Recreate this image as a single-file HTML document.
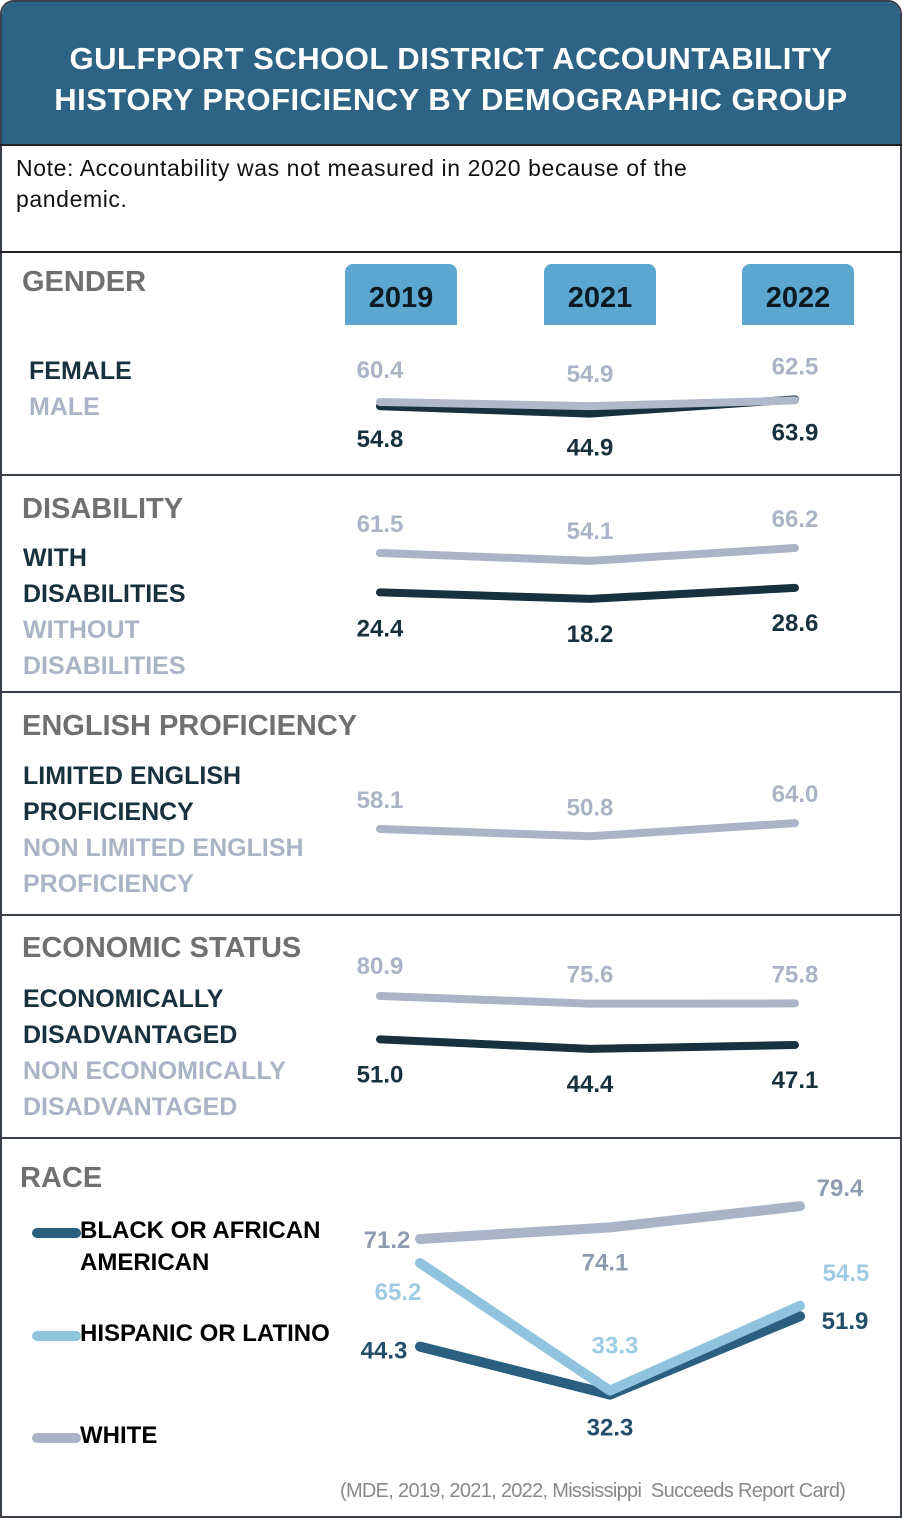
<!DOCTYPE html>
<html><head><meta charset="utf-8">
<style>
html,body{margin:0;padding:0;background:#fff;}
body{width:902px;height:1518px;position:relative;overflow:hidden;font-family:"Liberation Sans",sans-serif;}
.abs{position:absolute;}
#frame{position:absolute;left:0;top:0;width:898px;height:1514px;border:2px solid #3a4049;border-radius:14px 14px 0 0;}
#header{left:2px;top:2px;width:898px;height:142px;background:#2d6384;border-radius:12px 12px 0 0;color:#fff;font-weight:bold;font-size:31px;text-align:center;line-height:41px;padding-top:36px;box-sizing:border-box;letter-spacing:0.5px;}
.hr{position:absolute;left:0;width:902px;height:2px;background:#222;}
.note{left:16px;top:153px;font-size:23px;color:#111;line-height:31px;width:770px;letter-spacing:0.6px;}
.sec{font-size:29px;font-weight:bold;color:#707070;}
.lab{font-size:25px;font-weight:bold;line-height:36px;}
.dark{color:#17313f;}
.light{color:#aab4c6;}
.year{background:#5ba7d0;border-radius:8px 8px 0 0;width:112px;height:61px;top:264px;font-size:29px;font-weight:bold;color:#0d1a22;text-align:center;line-height:68px;}
.src{left:340px;top:1480px;font-size:20px;color:#888;letter-spacing:-0.7px;}
svg{position:absolute;left:0;top:0;}
</style></head><body>
<div id="frame"></div>
<div class="abs" id="header">GULFPORT SCHOOL DISTRICT ACCOUNTABILITY<br>HISTORY PROFICIENCY BY DEMOGRAPHIC GROUP</div>
<div class="hr" style="top:144px"></div>
<div class="abs note">Note: Accountability was not measured in 2020 because of the pandemic.</div>
<div class="hr" style="top:251px"></div>
<div class="hr" style="top:474px;background:#3a4049"></div>
<div class="hr" style="top:691px;background:#3a4049"></div>
<div class="hr" style="top:914px;background:#3a4049"></div>
<div class="hr" style="top:1137px;background:#3a4049"></div>

<div class="abs sec" style="left:22px;top:266px">GENDER</div>
<div class="abs year" style="left:345px">2019</div>
<div class="abs year" style="left:544px">2021</div>
<div class="abs year" style="left:742px">2022</div>
<div class="abs lab dark" style="left:29px;top:353px">FEMALE</div>
<div class="abs lab light" style="left:29px;top:389px">MALE</div>

<div class="abs sec" style="left:22px;top:493px">DISABILITY</div>
<div class="abs lab dark" style="left:23px;top:540px">WITH<br>DISABILITIES</div>
<div class="abs lab light" style="left:23px;top:612px">WITHOUT<br>DISABILITIES</div>

<div class="abs sec" style="left:22px;top:710px">ENGLISH PROFICIENCY</div>
<div class="abs lab dark" style="left:23px;top:758px">LIMITED ENGLISH<br>PROFICIENCY</div>
<div class="abs lab light" style="left:23px;top:830px">NON LIMITED ENGLISH<br>PROFICIENCY</div>

<div class="abs sec" style="left:22px;top:932px">ECONOMIC STATUS</div>
<div class="abs lab dark" style="left:23px;top:981px">ECONOMICALLY<br>DISADVANTAGED</div>
<div class="abs lab light" style="left:23px;top:1053px">NON ECONOMICALLY<br>DISADVANTAGED</div>

<div class="abs sec" style="left:20px;top:1162px">RACE</div>
<div class="abs lab" style="left:80px;top:1215px;color:#000;line-height:32px;font-size:24px">BLACK OR AFRICAN<br>AMERICAN</div>
<div class="abs lab" style="left:80px;top:1318px;color:#000;font-size:24px;line-height:32px">HISPANIC OR LATINO</div>
<div class="abs lab" style="left:80px;top:1420px;color:#000;font-size:24px;line-height:32px">WHITE</div>
<div class="abs src">(MDE, 2019, 2021, 2022, Mississippi&nbsp; Succeeds Report Card)</div>

<svg id="chart" width="902" height="1518"></svg>
<script>
const years = ["2019","2021","2022"];
const maleVals = [60.4, 54.9, 62.5];
const femaleVals = [54.8, 44.9, 63.9];
const withoutDisVals = [61.5, 54.1, 66.2];
const withDisVals = [24.4, 18.2, 28.6];
const nonLepVals = [58.1, 50.8, 64.0];
const nonEconVals = [80.9, 75.6, 75.8];
const econVals = [51.0, 44.4, 47.1];
const whiteVals = [71.2, 74.1, 79.4];
const hispanicVals = [65.2, 33.3, 54.5];
const blackVals = [44.3, 32.3, 51.9];

const NS = "http://www.w3.org/2000/svg";
const svg = document.getElementById("chart");
const xPanel = i => [380, 590, 795][i];
const xRace = i => [420, 610, 800][i];
function yScale(y0, v0, k){ return v => y0 + (v0 - v) * k; }

function line(vals, xf, yf, color, w, name){
  const p = document.createElementNS(NS, "polyline");
  p.setAttribute("points", vals.map((v,i)=>xf(i)+","+yf(v)).join(" "));
  p.setAttribute("fill","none");
  p.setAttribute("stroke",color);
  p.setAttribute("stroke-width",w);
  p.setAttribute("stroke-linecap","round");
  p.setAttribute("stroke-linejoin","round");
  
  
  svg.appendChild(p);
}
function label(vals, xf, yf, dy, color, name, dxs){
  vals.forEach((v,i)=>{
    const t = document.createElementNS(NS, "text");
    t.setAttribute("x", xf(i) + (dxs ? dxs[i] : 0));
    t.setAttribute("y", yf(v) + (Array.isArray(dy) ? dy[i] : dy));
    t.setAttribute("text-anchor","middle");
    t.setAttribute("font-family","Liberation Sans, sans-serif");
    t.setAttribute("font-weight","bold");
    t.setAttribute("font-size","24");
    t.setAttribute("fill",color);
    t.textContent = v.toFixed(1);
    
    
    svg.appendChild(t);
  });
}
const DARK="#17313f", LIGHT="#aab4c6";

const yG = yScale(402, 60.4, 0.75);
line(femaleVals, xPanel, yG, DARK, 8, "female-line");
line(maleVals, xPanel, yG, "#b0b9ca", 8, "male-line");
label(maleVals, xPanel, yG, [-24,-24,-26], LIGHT, "male-value");
label(femaleVals, xPanel, yG, [41,42,41], DARK, "female-value");

const yD = yScale(553, 61.5, 1.06);
line(withoutDisVals, xPanel, yD, LIGHT, 8, "without-disabilities-line");
line(withDisVals, xPanel, yD, DARK, 8, "with-disabilities-line");
label(withoutDisVals, xPanel, yD, [-21,-22,-21], LIGHT, "without-disabilities-value");
label(withDisVals, xPanel, yD, [44,43,43], DARK, "with-disabilities-value");

const yE = yScale(829, 58.1, 1.0);
line(nonLepVals, xPanel, yE, LIGHT, 8, "non-lep-line");
label(nonLepVals, xPanel, yE, [-21,-21,-21], LIGHT, "non-lep-value");

const yC = yScale(996, 80.9, 1.45);
line(nonEconVals, xPanel, yC, LIGHT, 8, "non-econ-line");
line(econVals, xPanel, yC, DARK, 8, "econ-line");
label(nonEconVals, xPanel, yC, [-22,-21,-21], LIGHT, "non-econ-value");
label(econVals, xPanel, yC, [43,43,43], DARK, "econ-value");

const yR = yScale(1263, 65.2, 4.0);
line(whiteVals, xRace, yR, "#aab4c7", 10, "white-line");
line(blackVals, xRace, yR, "#2a5f80", 10, "black-line");
line(hispanicVals, xRace, yR, "#8fc3de", 10, "hispanic-line");
label(whiteVals, xRace, yR, [9,43,-10], "#8f9bb1", "white-value", [-33,-5,40]);
label(hispanicVals, xRace, yR, [37,-37,-25], "#9fcbe2", "hispanic-value", [-22,5,46]);
label(blackVals, xRace, yR, [12,41,13], "#234e6a", "black-value", [-36,0,45]);

[["#2a5f80",1233,"legend-black-swatch"],["#8fc3de",1336,"legend-hispanic-swatch"],["#aab4c7",1438,"legend-white-swatch"]].forEach(s=>{
  const l = document.createElementNS(NS,"line");
  l.setAttribute("x1",37);l.setAttribute("x2",76);
  l.setAttribute("y1",s[1]);l.setAttribute("y2",s[1]);
  l.setAttribute("stroke",s[0]);l.setAttribute("stroke-width",10);
  l.setAttribute("stroke-linecap","round");
  
  
  svg.appendChild(l);
});
</script>
</body></html>
